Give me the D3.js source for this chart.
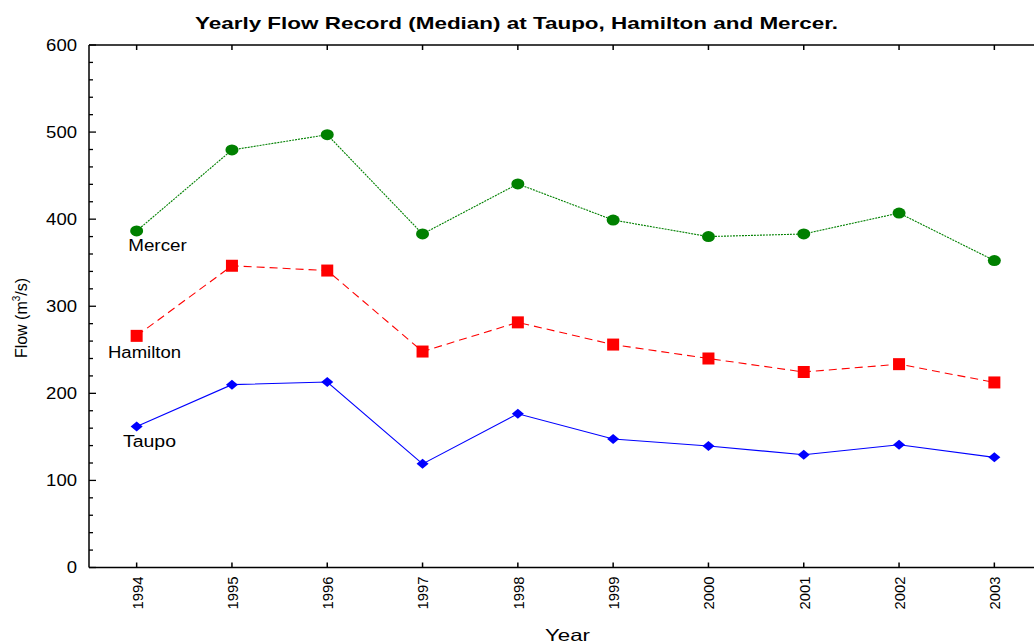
<!DOCTYPE html>
<html><head><meta charset="utf-8">
<script src="https://cdn.jsdelivr.net/npm/d3@7"></script>
<style>body{margin:0;background:#fff;} svg{display:block;font-family:"Liberation Sans",Arial,sans-serif;}</style>
</head><body>
<svg id="c" width="1034" height="644"></svg>
<script>
const years = [1994,1995,1996,1997,1998,1999,2000,2001,2002,2003];
const taupo = [162,210,213,119,176.5,147.5,139.5,129.5,141,126.5];
const hamilton = [266,346.5,341,248,281.5,256,240,224.5,233.5,212.5];
const mercer = [386.5,479.5,497,383,440.5,399,380,383,407,352.5];
const yTicks = [0,100,200,300,400,500,600];
const seriesNames = ["Taupo","Hamilton","Mercer"];

const svg = d3.select("#c");
const L = 89, T = 45, B = 567.5, R = 1042;
const x = d3.scalePoint().domain(years).range([L, R]).padding(0.5);
const y = d3.scaleLinear().domain([0,600]).range([B, T]);

// title
svg.append("text").attr("x",516.5).attr("y",29.3).attr("text-anchor","middle")
  .attr("font-size",17).attr("font-weight","bold")
  .attr("textLength",643).attr("lengthAdjust","spacingAndGlyphs")
  .text("Yearly Flow Record (Median) at Taupo, Hamilton and Mercer.");

// frame lines
svg.append("line").attr("x1",L).attr("x2",1034).attr("y1",T).attr("y2",T).attr("stroke","#000").attr("stroke-width",1.5);
svg.append("line").attr("x1",L).attr("x2",1034).attr("y1",B).attr("y2",B).attr("stroke","#000").attr("stroke-width",1.5);
svg.append("line").attr("x1",L).attr("x2",L).attr("y1",T).attr("y2",B).attr("stroke","#000").attr("stroke-width",1.5);

// y axis
const yAxis = d3.axisLeft(y).tickValues(yTicks).tickSize(0).tickPadding(12);
const gy = svg.append("g").attr("transform",`translate(${L},0)`).call(yAxis);
gy.select(".domain").remove();
gy.selectAll("text").attr("font-size",16).attr("fill","#000").attr("font-family","Liberation Sans, Arial, sans-serif")
  .attr("textLength",d=>String(d).length*10.3).attr("lengthAdjust","spacingAndGlyphs");
const minor = d3.range(0,601,20);
svg.append("g").selectAll("line").data(minor).join("line")
  .attr("x1",L).attr("x2",d=>L+(d%100===0?7:4)).attr("y1",d=>y(d)).attr("y2",d=>y(d))
  .attr("stroke","#000").attr("stroke-width",1.3);

// x axis
const xAxis = d3.axisBottom(x).tickSize(0).tickPadding(0);
const gx = svg.append("g").attr("transform",`translate(0,${B})`).call(xAxis);
gx.select(".domain").remove();
gx.selectAll("text").attr("font-size",15.5).attr("fill","#000")
  .attr("font-family","Liberation Sans, Arial, sans-serif")
  .attr("transform","rotate(-90)").attr("text-anchor","end")
  .attr("x",-9).attr("y",0).attr("dy","0.35em")
  .attr("textLength",33).attr("lengthAdjust","spacingAndGlyphs");
svg.append("g").selectAll("line").data(years).join("line")
  .attr("x1",d=>x(d)).attr("x2",d=>x(d)).attr("y1",B).attr("y2",B-5)
  .attr("stroke","#000").attr("stroke-width",1.5);
svg.append("g").selectAll("line").data(years).join("line")
  .attr("x1",d=>x(d)).attr("x2",d=>x(d)).attr("y1",T).attr("y2",T+5)
  .attr("stroke","#000").attr("stroke-width",1.5);

// axis titles
svg.append("text").attr("x",567.5).attr("y",640.5).attr("text-anchor","middle").attr("font-size",16.5)
  .attr("textLength",45).attr("lengthAdjust","spacingAndGlyphs").text("Year");
const yl = svg.append("text").attr("transform","translate(27,318) rotate(-90)").attr("text-anchor","middle").attr("font-size",16);
yl.append("tspan").text("Flow (m");
yl.append("tspan").attr("font-size",10).attr("dy",-7).text("3");
yl.append("tspan").attr("dy",7).text("/s)");

// series
const line = d3.line().x((d,i)=>x(years[i])).y(d=>y(d));
const specs = [
  {vals:taupo, color:"#0000ff", dash:null, name:seriesNames[0], lx:149.5, ly:446.7, w:53},
  {vals:hamilton, color:"#ff0000", dash:"8,5", name:seriesNames[1], lx:144.5, ly:357.7, w:73},
  {vals:mercer, color:"#008000", dash:"2,1", name:seriesNames[2], lx:157.5, ly:250.7, w:58.5}
];
specs.forEach(s=>{
  svg.append("path").datum(s.vals).attr("d",line).attr("fill","none")
    .attr("stroke",s.color).attr("stroke-width",1.1).attr("stroke-dasharray",s.dash);
});
// markers
svg.append("g").selectAll("path").data(taupo).join("path")
  .attr("d","M0,-5 L6,0 L0,5 L-6,0 Z").attr("fill","#0000ff")
  .attr("transform",(d,i)=>`translate(${x(years[i])},${y(d)})`);
svg.append("g").selectAll("rect").data(hamilton).join("rect")
  .attr("x",(d,i)=>x(years[i])-6).attr("y",d=>y(d)-6).attr("width",12).attr("height",12).attr("fill","#ff0000");
svg.append("g").selectAll("ellipse").data(mercer).join("ellipse")
  .attr("cx",(d,i)=>x(years[i])).attr("cy",d=>y(d)).attr("rx",6.5).attr("ry",5.5).attr("fill","#008000");
// labels
specs.forEach(s=>{
  svg.append("text").attr("x",s.lx).attr("y",s.ly).attr("text-anchor","middle").attr("font-size",16)
    .attr("textLength",s.w).attr("lengthAdjust","spacingAndGlyphs").text(s.name);
});
</script>
</body></html>
